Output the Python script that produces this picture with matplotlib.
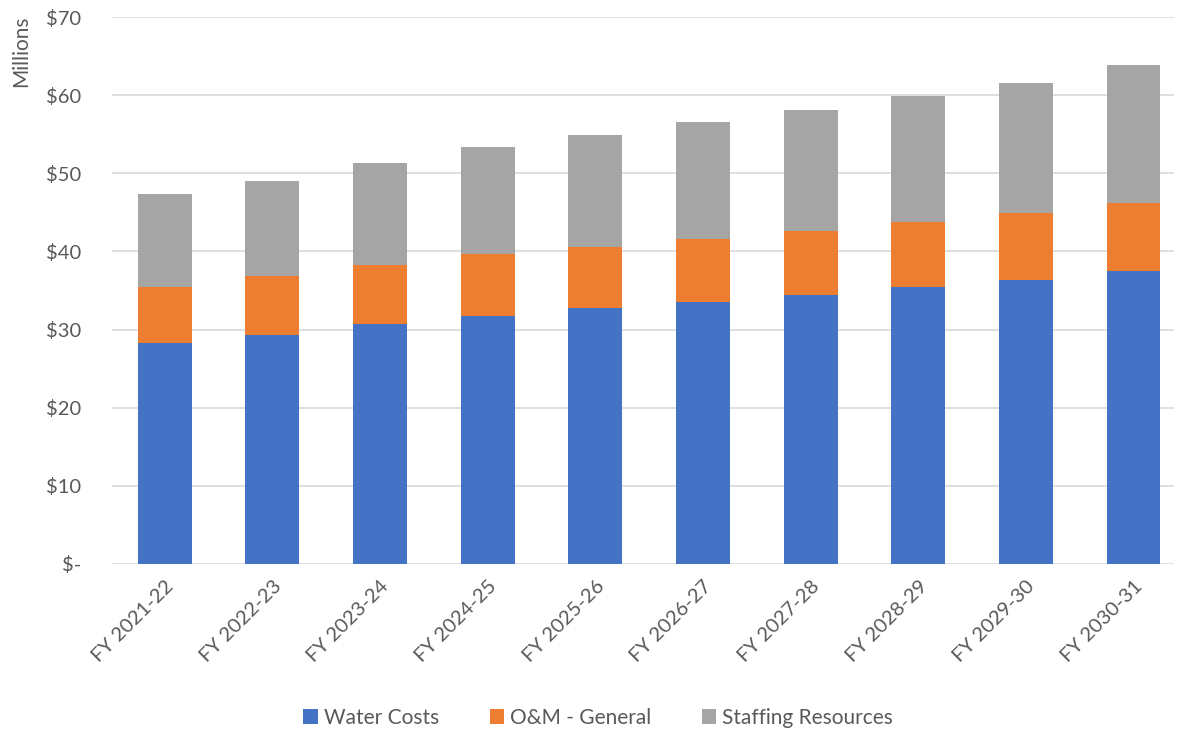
import matplotlib.pyplot as plt
import numpy as np

plt.rcParams['font.family'] = ['Lato', 'DejaVu Sans']

years = ["FY 2021-22", "FY 2022-23", "FY 2023-24", "FY 2024-25", "FY 2025-26",
         "FY 2026-27", "FY 2027-28", "FY 2028-29", "FY 2029-30", "FY 2030-31"]
water = [28.3, 29.3, 30.7, 31.8, 32.8, 33.5, 34.4, 35.5, 36.4, 37.5]
om_general = [7.2, 7.6, 7.6, 7.9, 7.8, 8.1, 8.2, 8.3, 8.5, 8.7]
staffing = [11.9, 12.1, 13.0, 13.7, 14.3, 15.0, 15.5, 16.1, 16.7, 17.6]

text_color = "#595959"

fig = plt.figure(figsize=(11.78, 7.3), dpi=100)
ax = fig.add_axes([0.095, 0.2274, 0.902, 0.7493])

x = np.arange(len(years))
w = 0.5
water = np.array(water)
om_general = np.array(om_general)
staffing = np.array(staffing)
ax.bar(x, water, w, color="#4472C4", label="Water Costs", zorder=3)
ax.bar(x, om_general, w, bottom=water, color="#ED7D31", label="O&M - General", zorder=3)
ax.bar(x, staffing, w, bottom=water + om_general, color="#A5A5A5",
       label="Staffing Resources", zorder=3)

ax.set_xlim(-0.49, len(years) - 0.62)
ax.set_ylim(0, 70)
yt = np.arange(0, 71, 10)
ax.set_yticks(yt)
ax.set_yticklabels(["$-"] + ["${}".format(v) for v in yt[1:]], fontsize=14.5, color=text_color)
ax.set_xticks(x)
ax.set_xticklabels(years, rotation=45, ha="right", rotation_mode="anchor",
                   fontsize=14.5, color=text_color)
ax.tick_params(length=0)
ax.tick_params(axis="y", pad=22)
ax.tick_params(axis="x", pad=10)
ax.grid(axis="y", color="#D9D9D9", linewidth=1.2, zorder=0)
for s in ax.spines.values():
    s.set_visible(False)

fig.text(0.018, 0.93, "Millions", rotation=90, fontsize=15, color=text_color,
         ha="center", va="center")

fig.legend(loc="center", bbox_to_anchor=(0.508, 0.017), ncol=3, frameon=False,
           fontsize=15, labelcolor=text_color, handlelength=0.7, handleheight=0.7,
           handletextpad=0.3, columnspacing=2.4)

fig.savefig("out.png", dpi=100)
